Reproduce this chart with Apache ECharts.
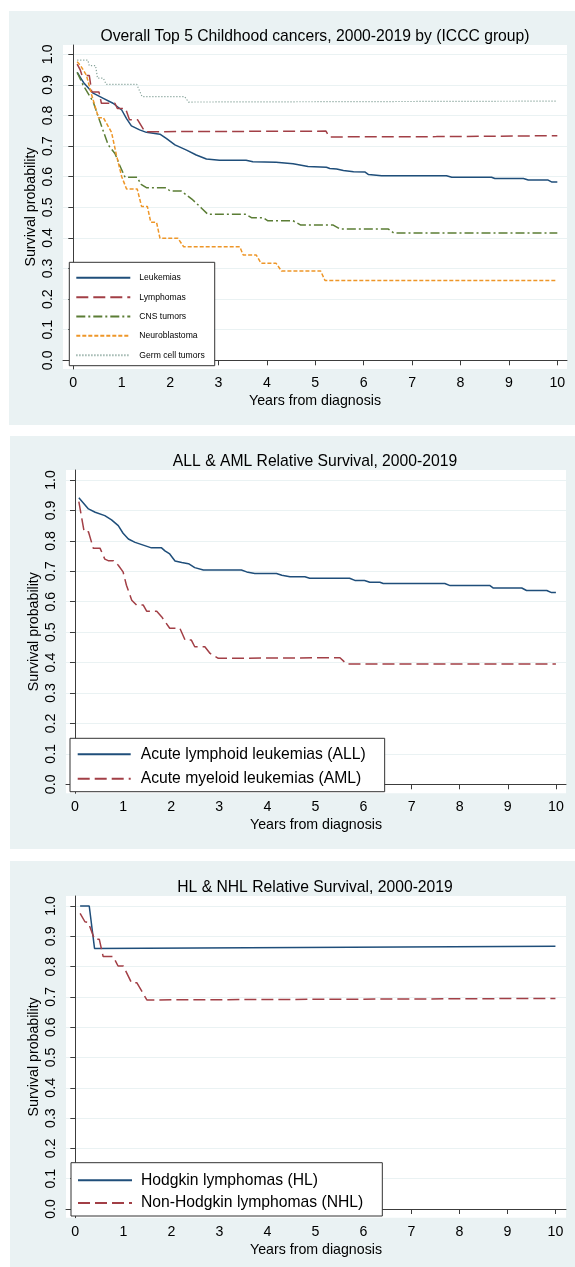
<!DOCTYPE html>
<html>
<head>
<meta charset="utf-8">
<script src="https://cdn.jsdelivr.net/npm/echarts@6.0.0/dist/echarts.min.js"></script>
<style>
  html, body { margin: 0; padding: 0; background: #fff; }
  #main { width: 575px; height: 1267px; }
</style>
</head>
<body>
<div id="main"></div>
<script>
// tick labels
var yearTicks = [0, 1, 2, 3, 4, 5, 6, 7, 8, 9, 10];
var survTicks = [0.0, 0.1, 0.2, 0.3, 0.4, 0.5, 0.6, 0.7, 0.8, 0.9, 1.0];

// panel 1 - top 5 ICCC groups, [years, survival]
var leukemias = [[0.08,0.941],[0.21,0.908],[0.41,0.873],[0.62,0.856],[0.82,0.84],[1.0,0.818],[1.1,0.79],[1.2,0.766],
    [1.37,0.753],[1.51,0.745],[1.79,0.739],[1.92,0.725],[2.1,0.704],[2.34,0.687],[2.54,0.671],[2.75,0.658],[3.02,0.654],
    [3.57,0.654],[3.71,0.649],[4.19,0.647],[4.54,0.642],[4.85,0.633],[5.23,0.631],[5.3,0.627],[5.44,0.625],[5.58,0.62],
    [5.79,0.616],[6.03,0.615],[6.1,0.607],[6.37,0.603],[7.71,0.603],[7.82,0.598],[8.64,0.598],[8.71,0.594],[9.3,0.594],
    [9.4,0.589],[9.81,0.589],[9.88,0.583],[10,0.583]];
var lymphomas = [[0.08,0.968],[0.14,0.95],[0.18,0.931],[0.33,0.931],[0.38,0.877],[0.53,0.877],[0.58,0.84],[0.86,0.84],
    [0.91,0.823],[1.08,0.823],[1.16,0.786],[1.33,0.786],[1.48,0.747],[5.22,0.749],[5.29,0.73],[7.5,0.731],[10,0.734]];
var cnsTumors = [[0.08,0.941],[0.2,0.9],[0.41,0.845],[0.55,0.78],[0.72,0.704],[0.86,0.676],[0.95,0.64],[1.07,0.598],
    [1.32,0.598],[1.4,0.575],[1.51,0.564],[1.92,0.564],[2.0,0.553],[2.23,0.553],[2.47,0.524],[2.65,0.497],[2.78,0.477],
    [3.57,0.477],[3.68,0.466],[3.92,0.466],[4.02,0.456],[4.54,0.456],[4.7,0.442],[5.37,0.442],[5.51,0.429],[6.51,0.429],
    [6.62,0.416],[10,0.416]];
var neuroblastoma = [[0.08,0.976],[0.15,0.963],[0.27,0.932],[0.38,0.867],[0.52,0.793],[0.62,0.793],[0.79,0.745],
    [0.89,0.671],[1.0,0.6],[1.1,0.56],[1.32,0.56],[1.41,0.503],[1.53,0.503],[1.6,0.451],[1.72,0.451],[1.79,0.399],
    [2.16,0.399],[2.28,0.371],[3.44,0.371],[3.51,0.344],[3.78,0.344],[3.88,0.317],[4.19,0.317],[4.3,0.292],[5.11,0.292],
    [5.2,0.261],[10,0.261]];
var germCell = [[0.08,0.981],[0.3,0.981],[0.33,0.963],[0.46,0.963],[0.5,0.922],[0.62,0.922],[0.68,0.902],[1.31,0.902],
    [1.42,0.862],[2.3,0.862],[2.38,0.844],[10,0.847]];

// panel 2 - ALL & AML
var allSurv = [[0.08,0.942],[0.28,0.905],[0.42,0.894],[0.62,0.883],[0.76,0.869],[0.9,0.85],[1.0,0.825],[1.11,0.806],
    [1.25,0.795],[1.42,0.786],[1.59,0.777],[1.8,0.777],[1.87,0.767],[1.97,0.757],[2.08,0.734],[2.22,0.729],[2.36,0.725],
    [2.49,0.712],[2.67,0.704],[3.46,0.704],[3.57,0.698],[3.74,0.693],[4.19,0.693],[4.3,0.687],[4.47,0.682],[4.78,0.682],
    [4.88,0.677],[5.71,0.677],[5.82,0.67],[6.02,0.67],[6.13,0.664],[6.34,0.664],[6.41,0.66],[7.69,0.66],[7.8,0.653],
    [8.63,0.653],[8.7,0.645],[9.29,0.645],[9.39,0.637],[9.81,0.637],[9.91,0.63],[10,0.63]];
var amlSurv = [[0.08,0.929],[0.19,0.83],[0.28,0.83],[0.38,0.776],[0.52,0.776],[0.62,0.74],[0.69,0.735],[0.8,0.735],
    [0.9,0.72],[1.0,0.698],[1.07,0.654],[1.18,0.605],[1.28,0.589],[1.42,0.589],[1.49,0.569],[1.7,0.569],[1.8,0.551],
    [1.97,0.513],[2.18,0.513],[2.29,0.474],[2.42,0.474],[2.49,0.452],[2.7,0.452],[2.81,0.43],[2.98,0.414],[5.51,0.416],
    [5.65,0.395],[10,0.395]];

// panel 3 - HL & NHL
var hlSurv = [[0.1,1.0],[0.29,1.0],[0.4,0.86],[10,0.867]];
var nhlSurv = [[0.1,0.976],[0.2,0.948],[0.27,0.946],[0.4,0.89],[0.5,0.89],[0.58,0.833],[0.79,0.833],[0.89,0.802],
    [1.0,0.802],[1.17,0.747],[1.28,0.747],[1.49,0.69],[10,0.695]];

var FONT = '"Liberation Sans", Arial, Helvetica, sans-serif';
var BG = '#eaf2f3';
var AXIS = '#3c3c3c';
var NAVY = '#1f4e7a', MAROON = '#a23f46', GREEN = '#5b7d35', ORANGE = '#ee9628', TEAL = '#86a39a';

// plot regions in px, with the axis range each one covers
var panels = [
    { left: 63, top: 45, width: 504, height: 324, x: [-0.213, 10.2], y: [-0.0284, 1.0304] },
    { left: 66, top: 470, width: 500, height: 323.3, x: [-0.187, 10.21], y: [-0.0296, 1.0329] },
    { left: 66, top: 896, width: 500, height: 321.7, x: [-0.194, 10.22], y: [-0.0287, 1.033] }
];

var grids = [], xAxes = [], yAxes = [];
panels.forEach(function(p, i)
{
    grids.push({ left: p.left, top: p.top, width: p.width, height: p.height,
        show: true, backgroundColor: '#fff', borderWidth: 0 });
    xAxes.push({
        type: 'value', gridIndex: i, min: p.x[0], max: p.x[1],
        name: 'Years from diagnosis', nameLocation: 'middle', nameGap: 25,
        nameTextStyle: { fontFamily: FONT, fontSize: 14.2, color: '#000' },
        axisLine: { show: true, lineStyle: { color: AXIS, width: 1 } },
        axisTick: { show: true, length: 5, customValues: yearTicks, lineStyle: { color: AXIS } },
        axisLabel: { customValues: yearTicks, margin: 7, fontFamily: FONT, fontSize: 14.2, color: '#000' },
        splitLine: { show: false }
    });
    yAxes.push({
        type: 'value', gridIndex: i, min: p.y[0], max: p.y[1],
        name: 'Survival probability', nameLocation: 'middle', nameGap: 25, nameRotate: 90,
        nameMoveOverlap: false,
        nameTextStyle: { fontFamily: FONT, fontSize: 14.2, color: '#000' },
        axisLine: { show: true, lineStyle: { color: AXIS, width: 1 } },
        axisTick: { show: true, length: 5, customValues: survTicks, lineStyle: { color: AXIS } },
        axisLabel: { customValues: survTicks, rotate: 90, margin: 8, fontFamily: FONT, fontSize: 14.2, color: '#000',
            formatter: function(v) { return v.toFixed(1); } },
        splitLine: { show: true, lineStyle: { color: BG, width: 1.2 } }
    });
});

function curve(name, data, idx, color, dash, width)
{
    return { type: 'line', name: name, data: data, xAxisIndex: idx, yAxisIndex: idx,
        symbol: 'none', silent: true, animation: false,
        itemStyle: { color: color },
        lineStyle: { color: color, width: width || 1.5, type: dash } };
}

// legend keys are just the line sample, no marker
var legendBase = {
    orient: 'vertical', backgroundColor: '#fff', borderColor: '#333', borderWidth: 1,
    itemWidth: 54, selectedMode: false,
    itemStyle: { opacity: 0, borderWidth: 0 }
};

var option = {
    animation: false,
    backgroundColor: '#fff',
    graphic: [
        { type: 'rect', z: -100, silent: true, shape: { x: 9, y: 11, width: 566, height: 414 }, style: { fill: BG } },
        { type: 'rect', z: -100, silent: true, shape: { x: 10, y: 436, width: 565, height: 413 }, style: { fill: BG } },
        { type: 'rect', z: -100, silent: true, shape: { x: 10, y: 861, width: 565, height: 406 }, style: { fill: BG } }
    ],
    title: [
        { text: 'Overall Top 5 Childhood cancers, 2000-2019 by (ICCC group)', left: 315, top: 29 },
        { text: 'ALL & AML Relative Survival, 2000-2019', left: 315, top: 454 },
        { text: 'HL & NHL Relative Survival, 2000-2019', left: 315, top: 880 }
    ].map(function(t)
    {
        t.textAlign = 'center';
        t.padding = 0;
        t.textStyle = { fontFamily: FONT, fontSize: 15.7, fontWeight: 'normal', color: '#000', lineHeight: 16 };
        return t;
    }),
    legend: [
        Object.assign({}, legendBase, {
            data: ['Leukemias', 'Lymphomas', 'CNS tumors', 'Neuroblastoma', 'Germ cell tumors'],
            left: 69.3, top: 262.3, itemHeight: 10, itemGap: 10.35, padding: [11, 10, 6, 6],
            textStyle: { fontFamily: FONT, fontSize: 8.6, color: '#000', padding: [0, 0, 0, 4] }
        }),
        Object.assign({}, legendBase, {
            data: ['Acute lymphoid leukemias (ALL)', 'Acute myeloid leukemias (AML)'],
            left: 70, top: 738.3, itemWidth: 53, itemHeight: 14, itemGap: 8.4, padding: [8, 19, 5, 6.7],
            textStyle: { fontFamily: FONT, fontSize: 15.7, color: '#000', padding: [0, 0, 0, 5] }
        }),
        Object.assign({}, legendBase, {
            data: ['Hodgkin lymphomas (HL)', 'Non-Hodgkin lymphomas (NHL)'],
            left: 71, top: 1162.7, itemHeight: 14, itemGap: 6.7, padding: [9.6, 19, 5, 6],
            textStyle: { fontFamily: FONT, fontSize: 15.7, color: '#000', padding: [0, 0, 0, 4] }
        })
    ],
    grid: grids,
    xAxis: xAxes,
    yAxis: yAxes,
    series: [
        curve('Leukemias', leukemias, 0, NAVY, 'solid'),
        curve('Lymphomas', lymphomas, 0, MAROON, [12, 5]),
        curve('CNS tumors', cnsTumors, 0, GREEN, [9, 3, 2, 3]),
        curve('Neuroblastoma', neuroblastoma, 0, ORANGE, [4, 2]),
        curve('Germ cell tumors', germCell, 0, TEAL, [1.2, 1.8], 1.2),
        curve('Acute lymphoid leukemias (ALL)', allSurv, 1, NAVY, 'solid'),
        curve('Acute myeloid leukemias (AML)', amlSurv, 1, MAROON, [12, 5]),
        curve('Hodgkin lymphomas (HL)', hlSurv, 2, NAVY, 'solid'),
        curve('Non-Hodgkin lymphomas (NHL)', nhlSurv, 2, MAROON, [12, 5])
    ]
};

var myChart = echarts.init(document.getElementById('main'), null, { renderer: 'canvas' });
myChart.setOption(option);
</script>
</body>
</html>
